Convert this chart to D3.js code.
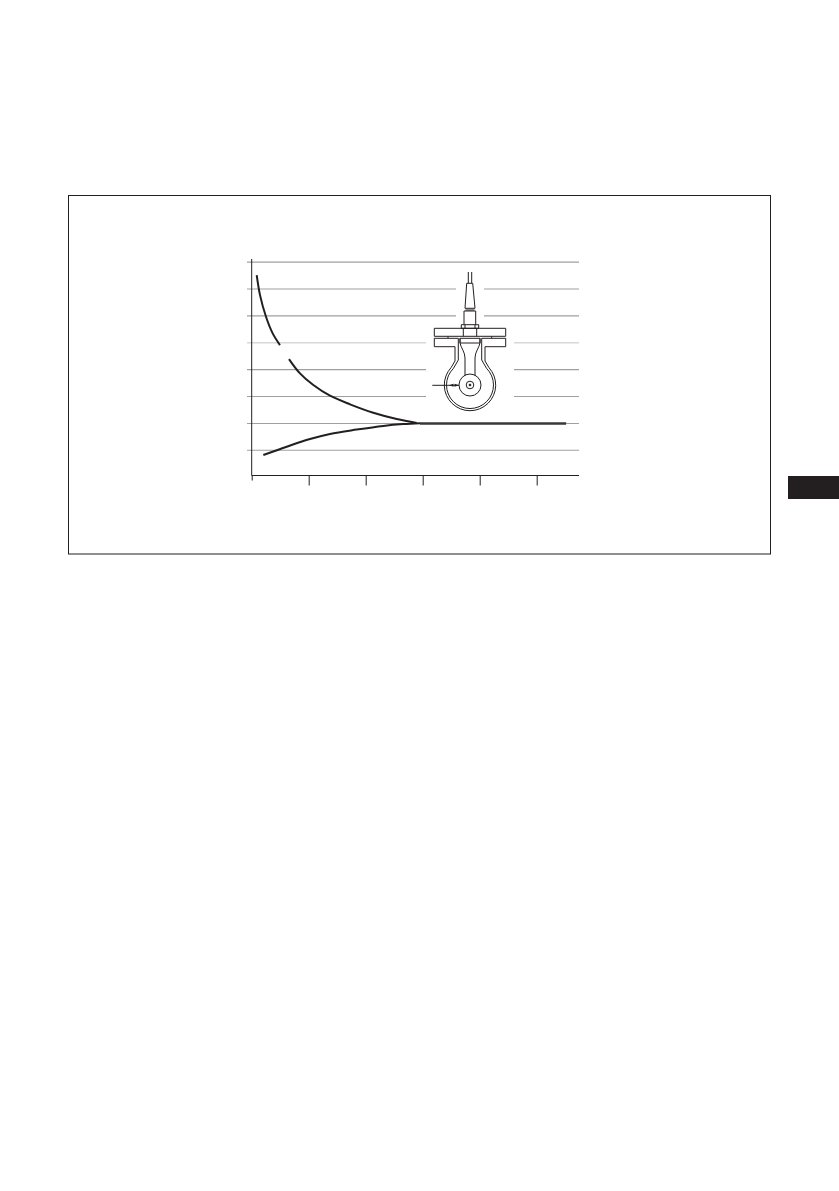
<!DOCTYPE html>
<html>
<head>
<meta charset="utf-8">
<script src="https://cdn.jsdelivr.net/npm/d3@7/dist/d3.min.js"></script>
<style>html,body{margin:0;padding:0;background:#fff}svg{display:block}</style>
</head>
<body>
<svg id="c" width="839" height="1191"></svg>
<script>
const xTicks = [0, 1, 2, 3, 4, 5];
const yGrid = [1, 2, 3, 4, 5, 6, 7, 8];
const upperLeftX = [0.088, 0.146, 0.251, 0.368, 0.496];
const upperLeftY = [7.517, 6.773, 5.967, 5.349, 4.914];
const upperRightX = [0.654, 0.847, 1.081, 1.374, 1.725, 2.133, 2.544, 2.895];
const upperRightY = [4.394, 3.862, 3.428, 3.030, 2.710, 2.398, 2.164, 2.015];
const lowerX = [0.204, 0.614, 1.023, 1.374, 1.842, 2.309, 2.660, 2.953];
const lowerY = [0.825, 1.134, 1.420, 1.610, 1.770, 1.907, 1.975, 2.007];
const flatX = [2.953, 5.516];
const flatY = [2.0, 2.0];

const INK = "#231f20";
const svg = d3.select("#c");
const x = d3.scaleLinear().domain([0, 5]).range([251.7, 536.7]);
const y = d3.scaleLinear().domain([0, 8]).range([477.2, 262.1]);
const xEnd = 579, axisY = 475.5;

// frame and page tab
svg.append("rect").attr("x", 68.5).attr("y", 195.5).attr("width", 702).attr("height", 358.5)
  .attr("fill", "none").attr("stroke", INK).attr("stroke-width", 1);
svg.append("rect").attr("x", 788).attr("y", 476).attr("width", 51).attr("height", 23).attr("fill", INK);

// grid
svg.append("g").selectAll("line").data(yGrid).join("line")
  .attr("x1", 247).attr("x2", xEnd)
  .attr("y1", d => y(d)).attr("y2", d => y(d))
  .attr("stroke", d => d === 5 ? "#d8d8d8" : "#a0a0a0")
  .attr("stroke-width", d => d === 5 ? 1.3 : 1.1);

// white halo behind the sensor
const halo = svg.append("g").attr("fill", "#fff");
[[456, 284, 28, 38], [426, 322, 88, 84]].forEach(r =>
  halo.append("rect").attr("x", r[0]).attr("y", r[1]).attr("width", r[2]).attr("height", r[3]));

// axes
const ax = svg.append("g").attr("transform", `translate(0,${axisY})`)
  .call(d3.axisBottom(x).tickValues(xTicks).tickSize(10).tickFormat(""));
ax.select(".domain").remove();
ax.selectAll("line").attr("stroke", INK).attr("stroke-width", 1)
  .attr("y2", d => d === 0 ? 5 : 10);
svg.append("line").attr("x1", 251.7).attr("x2", xEnd).attr("y1", axisY).attr("y2", axisY)
  .attr("stroke", INK).attr("stroke-width", 1);
svg.append("line").attr("x1", 251.7).attr("x2", 251.7).attr("y1", 259).attr("y2", axisY)
  .attr("stroke", INK).attr("stroke-width", 1);

// curves
const line = d3.line().x(d => x(d[0])).y(d => y(d[1])).curve(d3.curveCatmullRom);
const series = [[upperLeftX, upperLeftY, 2], [upperRightX, upperRightY, 2], [lowerX, lowerY, 2], [flatX, flatY, 2.4]];
series.forEach(s => {
  svg.append("path").attr("d", line(d3.zip(s[0], s[1])))
    .attr("fill", "none").attr("stroke", s === series[3] ? "#3a3738" : INK).attr("stroke-width", s[2]);
});

// sensor drawing
const g = svg.append("g").attr("fill", "none").attr("stroke", INK).attr("stroke-width", 1);
const p = d => g.append("path").attr("d", d);
p("M468.3,272V283.3M471.7,272V283.3");
p("M466.7,283.3H472.7L475,308.3H465Z");
p("M465.5,310H474.5");
p("M464,324.7V311H475.7V324.7");
p("M461.3,324.7H478.7V328.3H461.3Z");
p("M465,324.7V328.3M475,324.7V328.3");
p("M434.3,328.3H505.7V336.3H434.3Z");
p("M463.3,328.3V336.3M476.7,328.3V336.3");
p("M448,336.3V338.3M491.7,336.3V338.3");
p("M458.3,338.3H434.3V346.7H455V361L451,367.7A25.7,25.7 0 1 0 489,367.7L485,361V346.7H505.7V338.3H481.7V360L486.5,368.3A23.5,23.5 0 1 1 453.5,368.3L458.3,360V338.3");
p("M460,338.3H480V343H460Z");
p("M460,338.3V343C461,348 465,352 465,358V376M480,338.3V343C479,348 475,352 475,358V376");
g.append("circle").attr("cx", 470).attr("cy", 385).attr("r", 11);
g.append("circle").attr("cx", 470).attr("cy", 385).attr("r", 3.8);
g.append("circle").attr("cx", 470).attr("cy", 385).attr("r", 0.9).attr("fill", INK);
p("M432.3,385.3H459");
g.append("path").attr("d", "M459,385.3L454.5,383.8V386.8ZM449,385.3L453.5,383.8V386.8Z").attr("fill", INK).attr("stroke", "none");
</script>
</body>
</html>
